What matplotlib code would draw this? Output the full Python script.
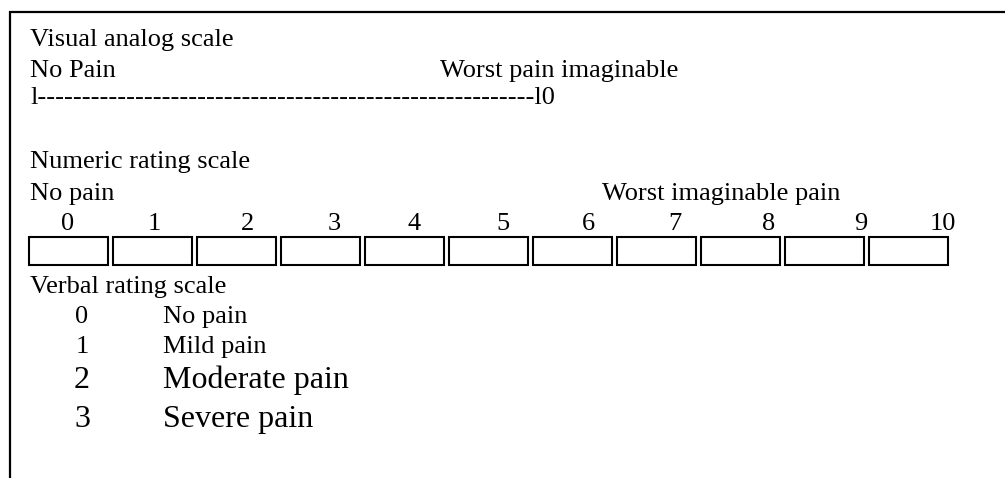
import matplotlib
matplotlib.use("Agg")
from matplotlib import pyplot as plt
from matplotlib.patches import Rectangle

# text of the three pain scales
vas_title = "Visual analog scale"
vas_left, vas_right = "No Pain", "Worst pain imaginable"
vas_dashes = 56

nrs_title = "Numeric rating scale"
nrs_left, nrs_right = "No pain", "Worst imaginable pain"
nrs_values = [0, 1, 2, 3, 4, 5, 6, 7, 8, 9, 10]
nrs_label_x = [68, 154, 248, 334, 414, 503, 588, 675, 769, 861, 943]

vrs_title = "Verbal rating scale"
vrs_scores = [0, 1, 2, 3]
vrs_labels = ["No pain", "Mild pain", "Moderate pain", "Severe pain"]
vrs_sizes = [19, 19, 23, 23]

FONT = "Liberation Serif"
FS = 19

fig = plt.figure(figsize=(10.05, 4.78), dpi=100)
ax = fig.add_axes([0, 0, 1, 1])
ax.set_xlim(0, 1005)
ax.set_ylim(478, 0)
ax.axis("off")

def txt(x, y, s, size=FS, ha="left"):
    ax.text(x, y, s, fontsize=size, family=FONT, ha=ha, va="baseline", color="black")

# frame (only top and left edges visible)
ax.plot([9, 1005], [11.5, 11.5], color="black", lw=1.6, solid_capstyle="butt")
ax.plot([9.5, 9.5], [11, 478], color="black", lw=1.6, solid_capstyle="butt")

# visual analog scale
txt(30, 46, vas_title)
txt(30, 77, vas_left)
txt(440, 77, vas_right)
txt(30, 104, "l" + "-" * vas_dashes + "l0")

# numeric rating scale
txt(30, 168, nrs_title)
txt(30, 200, nrs_left)
txt(602, 200, nrs_right)
for i, (v, lx) in enumerate(zip(nrs_values, nrs_label_x)):
    txt(lx, 230, str(v), ha="center")
    ax.add_patch(Rectangle((29 + i * 84, 237), 79, 28, fill=False,
                           edgecolor="black", lw=1.5))

# verbal rating scale
txt(30, 293, vrs_title)
baselines = [323, 353, 388, 427]
for score, label, size, yb in zip(vrs_scores, vrs_labels, vrs_sizes, baselines):
    txt(82, yb, str(score), size=size, ha="center")
    txt(163, yb, label, size=size)

fig.savefig("out.png", dpi=100)
